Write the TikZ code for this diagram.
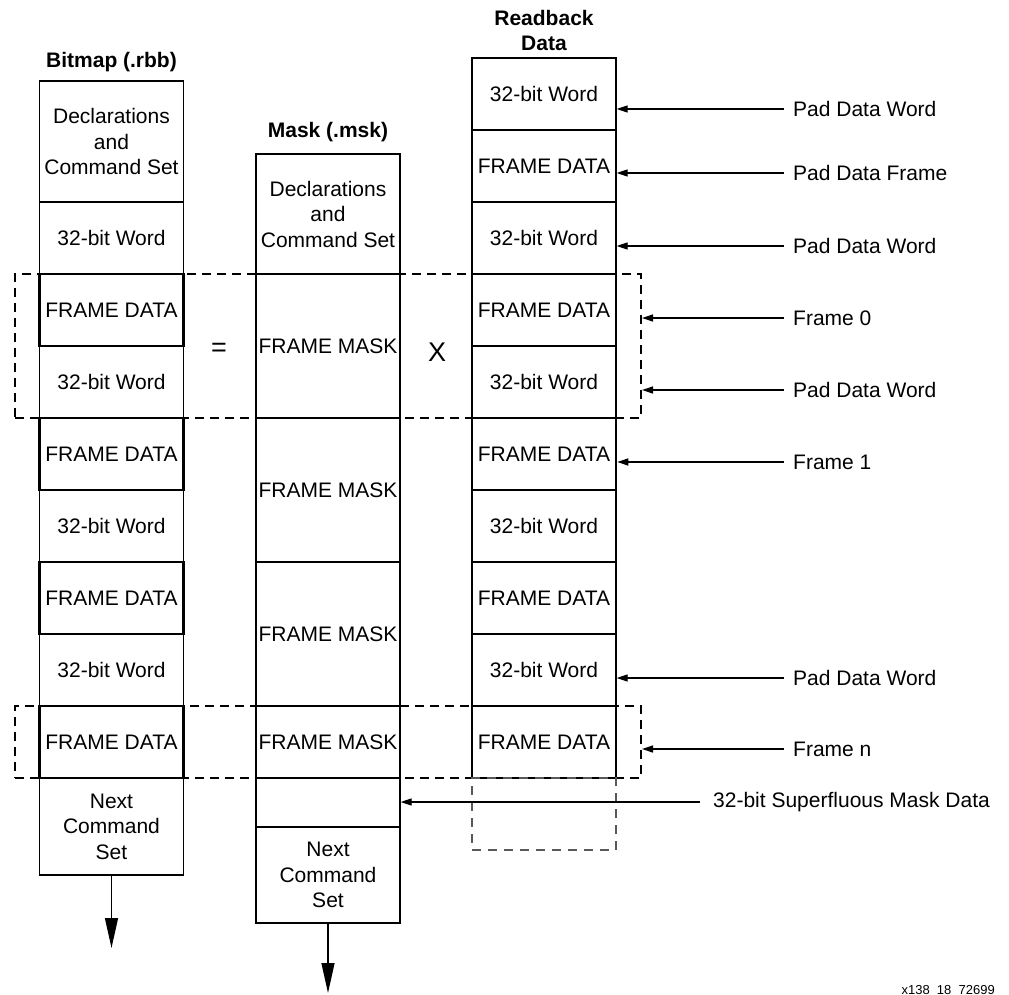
\documentclass[tikz,border=0pt]{standalone}
\usepackage{fontspec}
\setmainfont{Liberation Sans}
\usetikzlibrary{arrows.meta}

\begin{document}
\begin{tikzpicture}[x=1pt,y=-1pt,
  font=\fontsize{21}{25.5}\selectfont,
  cell/.style={draw, line width=1.3pt, minimum width=144pt, minimum height=72pt, inner sep=0pt, align=center},
  framecell/.style={cell, line width=2.5pt},
  dashframe/.style={draw, line width=2pt, dash pattern=on 9pt off 6pt, inner sep=0pt, minimum width=626pt},
  padcell/.style={draw=black!65, line width=1.5pt, dash pattern=on 9pt off 7pt, minimum width=144pt, minimum height=72pt, inner sep=0pt},
  title/.style={font=\fontsize{21}{25}\selectfont\bfseries, align=center},
  oper/.style={font=\fontsize{27}{30}\selectfont},
  lbl/.style={anchor=west, inner xsep=9pt, inner ysep=0pt},
  ptr/.style={-{Triangle[length=11pt,width=7pt]}, line width=1.3pt},
  down/.style={-{Triangle[length=30pt,width=13pt]}, line width=1.3pt}]
  \useasboundingbox (0,0) rectangle (1009,995);

  %% dashed frames
  \node[dashframe, minimum height=144pt] (frame0) at (328,346) {};
  \node[dashframe, minimum height=72pt] (framen) at (328,742) {};

  %% bitmap
  \node[title] (btitle) at (111.5,62) {Bitmap (.rbb)};
  \node[cell, minimum height=121pt] (bdecl) at (111.5,141.5) {Declarations\\and\\Command Set};
  \node[cell] (b1) at (111.5,238) {32-bit Word};
  \node[framecell] (b2) at (111.5,310) {FRAME DATA};
  \node[cell] (b3) at (111.5,382) {32-bit Word};
  \node[framecell] (b4) at (111.5,454) {FRAME DATA};
  \node[cell] (b5) at (111.5,526) {32-bit Word};
  \node[framecell] (b6) at (111.5,598) {FRAME DATA};
  \node[cell] (b7) at (111.5,670) {32-bit Word};
  \node[framecell] (b8) at (111.5,742) {FRAME DATA};
  \node[cell, minimum height=97pt] (bnext) at (111.5,826.5) {Next\\Command\\Set};
  \coordinate (bend) at (111.5,948);
  \draw[down] (bnext.south) -- (bend);

  %% mask
  \node[title] (mtitle) at (328,132) {Mask (.msk)};
  \node[cell, minimum height=120pt] (mdecl) at (328,214) {Declarations\\and\\Command Set};
  \node[cell, minimum height=144pt] (m1) at (328,346) {FRAME MASK};
  \node[framecell, minimum height=144pt] (m2) at (328,490) {FRAME MASK};
  \node[framecell, minimum height=144pt] (m3) at (328,634) {FRAME MASK};
  \node[framecell] (m4) at (328,742) {FRAME MASK};
  \node[cell, minimum height=49pt] (m5) at (328,802.5) {};
  \node[cell, minimum height=96pt] (mnext) at (328,875) {Next\\Command\\Set};
  \coordinate (mend) at (328,993);
  \draw[down] (mnext.south) -- (mend);

  %% readback
  \node[title] (rtitle) at (544,30) {Readback\\Data};
  \node[cell] (r0) at (544,94) {32-bit Word};
  \node[cell] (r1) at (544,166) {FRAME DATA};
  \node[cell] (r2) at (544,238) {32-bit Word};
  \node[framecell] (r3) at (544,310) {FRAME DATA};
  \node[cell] (r4) at (544,382) {32-bit Word};
  \node[framecell] (r5) at (544,454) {FRAME DATA};
  \node[cell] (r6) at (544,526) {32-bit Word};
  \node[framecell] (r7) at (544,598) {FRAME DATA};
  \node[cell] (r8) at (544,670) {32-bit Word};
  \node[framecell] (r9) at (544,742) {FRAME DATA};
  \node[padcell] (rpad) at (544,814) {};

  %% operators
  \node[oper] (eq) at (219,350) {=};
  \node[oper] (times) at (437,352) {X};

  %% labels
  \node[lbl] (l0) at (784,109) {Pad Data Word};
  \node[lbl] (l1) at (784,173) {Pad Data Frame};
  \node[lbl] (l2) at (784,246) {Pad Data Word};
  \node[lbl] (l3) at (784,318) {Frame 0};
  \node[lbl] (l4) at (784,390) {Pad Data Word};
  \node[lbl] (l5) at (784,462) {Frame 1};
  \node[lbl] (l6) at (784,678) {Pad Data Word};
  \node[lbl] (l7) at (784,749) {Frame n};
  \node[lbl, inner xsep=13pt] (l8) at (700,802) {32-bit Superfluous Mask Data};

  \draw[ptr] (l0.west) -- (l0.west -| r0.east);
  \draw[ptr] (l1.west) -- (l1.west -| r1.east);
  \draw[ptr] (l2.west) -- (l2.west -| r2.east);
  \draw[ptr] (l3.west) -- (l3.west -| frame0.east);
  \draw[ptr] (l4.west) -- (l4.west -| frame0.east);
  \draw[ptr] (l5.west) -- (l5.west -| r5.east);
  \draw[ptr] (l6.west) -- (l6.west -| r8.east);
  \draw[ptr] (l7.west) -- (l7.west -| framen.east);
  \draw[ptr] (l8.west) -- (l8.west -| m5.east);

  \node[font=\fontsize{13}{15}\selectfont, anchor=base west] (fig) at (898,994) {x138\_18\_72699};
\end{tikzpicture}
\end{document}
